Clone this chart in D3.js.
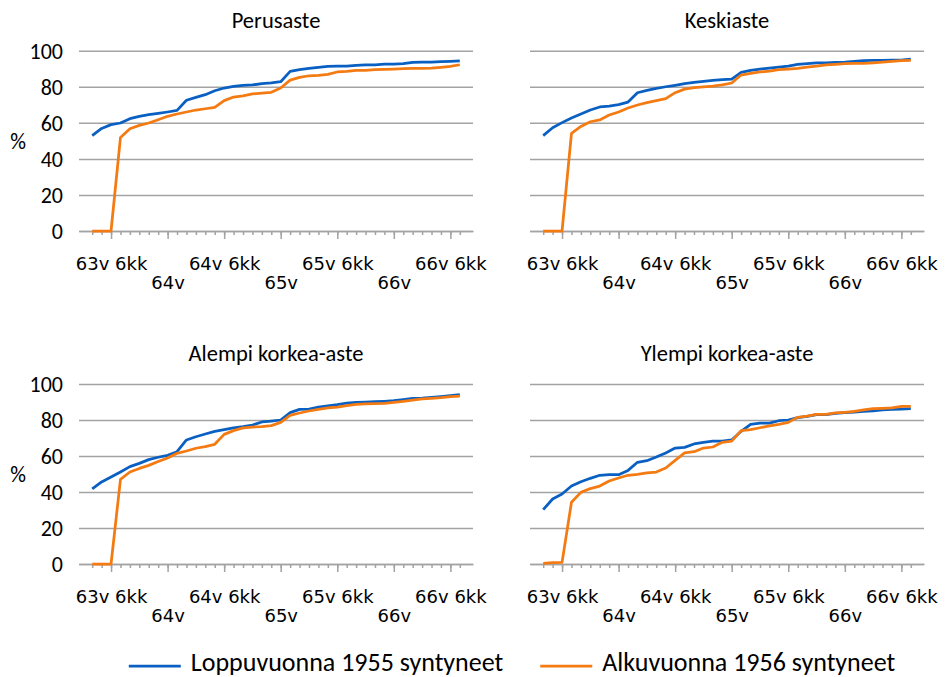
<!DOCTYPE html>
<html lang="fi">

<head>
    <meta charset="UTF-8">
    <title>Eläkkeelle siirtyminen koulutusasteittain</title>
    <script src="https://d3js.org/d3.v7.min.js"></script>
    <style>
        body {
            margin: 0;
            background: #fff;
        }

        svg {
            display: block;
        }

        .title, .ylab, .y-axis text, .legend text {
            font-family: Carlito, Lato, sans-serif;
            fill: #000;
        }

        .x-axis text {
            font-family: "DejaVu Sans", sans-serif;
            font-size: 18px;
            fill: #000;
        }
    </style>
</head>

<body>
    <svg></svg>
    <script>
        const width = 948;
        const height = 677;
        const plotWidth = 394;
        const gridColor = "#a3a3a3";

        // ikä kuukausina, 63v 4kk ... 66v 7kk
        const kategoriat = [
            "63v 4kk", "63v 5kk", "63v 6kk", "63v 7kk", "63v 8kk", "63v 9kk", "63v 10kk", "63v 11kk",
            "64v", "64v 1kk", "64v 2kk", "64v 3kk", "64v 4kk", "64v 5kk", "64v 6kk", "64v 7kk",
            "64v 8kk", "64v 9kk", "64v 10kk", "64v 11kk",
            "65v", "65v 1kk", "65v 2kk", "65v 3kk", "65v 4kk", "65v 5kk", "65v 6kk", "65v 7kk",
            "65v 8kk", "65v 9kk", "65v 10kk", "65v 11kk",
            "66v", "66v 1kk", "66v 2kk", "66v 3kk", "66v 4kk", "66v 5kk", "66v 6kk", "66v 7kk"
        ];
        const merkityt = ["63v 6kk", "64v", "64v 6kk", "65v", "65v 6kk", "66v", "66v 6kk"];
        const yTicks = [0, 20, 40, 60, 80, 100];

        const sarjat = ["Loppuvuonna 1955 syntyneet", "Alkuvuonna 1956 syntyneet"];
        const varit = ["#0a60c2", "#f47a12"];
        const otsikot = ["Perusaste", "Keskiaste", "Alempi korkea-aste", "Ylempi korkea-aste"];

        const perusaste1955 = [52.9, 56.9, 59.0, 59.9, 62.3, 63.6, 64.5, 65.2, 66.0, 66.9,
            72.5, 74.1, 75.6, 77.8, 79.3, 80.2, 80.8, 81.0, 81.7, 82.1,
            82.8, 88.5, 89.5, 90.2, 90.8, 91.3, 91.5, 91.5, 91.9, 92.1,
            92.2, 92.6, 92.6, 92.8, 93.5, 93.7, 93.7, 93.9, 94.1, 94.3];
        const perusaste1956 = [0, 0, 0, 51.9, 56.7, 58.6, 59.9, 61.7, 63.6, 64.9,
            66.0, 67.1, 67.8, 68.6, 72.3, 74.3, 75.0, 76.0, 76.5, 76.9,
            79.3, 83.7, 85.2, 86.1, 86.3, 86.9, 88.2, 88.5, 89.1, 89.1,
            89.5, 89.6, 89.8, 90.0, 90.2, 90.2, 90.4, 90.8, 91.3, 92.2];

        const keskiaste1955 = [52.9, 57.3, 60.1, 62.7, 64.9, 67.1, 68.8, 69.3, 70.1, 71.5,
            76.7, 78.0, 79.1, 80.0, 80.8, 81.7, 82.4, 83.0, 83.5, 83.9,
            84.3, 88.0, 89.1, 89.8, 90.4, 90.9, 91.5, 92.4, 92.8, 93.2,
            93.3, 93.5, 93.7, 94.1, 94.5, 94.6, 94.6, 94.8, 94.8, 95.4];
        const keskiaste1956 = [0, 0, 0, 54.2, 58.0, 60.6, 61.6, 64.3, 66.0, 68.2,
            69.9, 71.2, 72.3, 73.4, 76.7, 78.7, 79.5, 80.0, 80.4, 81.0,
            82.1, 86.5, 87.4, 88.2, 88.7, 89.5, 89.8, 90.2, 90.9, 91.5,
            92.1, 92.4, 92.8, 93.0, 93.0, 93.3, 93.7, 94.1, 94.5, 94.6];

        const alempi1955 = [41.7, 45.6, 48.3, 51.1, 54.1, 55.9, 58.0, 59.3, 60.4, 62.4,
            68.9, 70.7, 72.2, 73.7, 74.6, 75.6, 76.3, 77.2, 78.9, 79.4,
            80.0, 84.1, 85.9, 86.1, 87.2, 87.8, 88.5, 89.4, 89.8, 90.0,
            90.2, 90.4, 90.7, 91.3, 92.0, 92.2, 92.6, 93.0, 93.5, 94.1];
        const alempi1956 = [0, 0, 0, 47.0, 51.1, 53.1, 54.8, 56.9, 58.9, 61.5,
            62.8, 64.3, 65.2, 66.5, 72.0, 74.1, 75.6, 76.1, 76.3, 76.9,
            78.7, 82.6, 83.9, 85.0, 85.9, 86.7, 87.2, 88.0, 88.7, 88.9,
            89.1, 89.3, 89.8, 90.4, 91.1, 91.7, 92.0, 92.4, 93.0, 93.3];

        const ylempi1955 = [30.2, 36.1, 38.9, 43.3, 45.7, 47.6, 49.3, 49.6, 49.6, 52.0,
            56.5, 57.4, 59.4, 61.7, 64.4, 64.8, 66.7, 67.6, 68.3, 68.3,
            68.9, 73.7, 77.6, 78.3, 78.3, 79.6, 80.0, 81.3, 82.0, 83.0,
            83.0, 83.7, 84.1, 84.4, 84.8, 85.0, 85.6, 85.9, 86.1, 86.3];
        const ylempi1956 = [0.4, 0.7, 0.9, 34.3, 39.8, 41.9, 43.3, 46.1, 47.8, 49.3,
            49.8, 50.6, 51.1, 53.3, 57.6, 61.7, 62.4, 64.4, 65.0, 67.6,
            68.3, 74.1, 74.6, 75.7, 76.7, 77.6, 78.7, 81.5, 82.2, 83.1,
            83.1, 83.9, 84.3, 84.8, 85.6, 86.3, 86.5, 86.7, 87.6, 87.6];

        const paneelit = [
            { otsikko: otsikot[0], arvot: [perusaste1955, perusaste1956], left: 79, top: 50.7, bottom: 231, yLabels: true },
            { otsikko: otsikot[1], arvot: [keskiaste1955, keskiaste1956], left: 530, top: 50.7, bottom: 231, yLabels: false },
            { otsikko: otsikot[2], arvot: [alempi1955, alempi1956], left: 79, top: 384, bottom: 564, yLabels: true },
            { otsikko: otsikot[3], arvot: [ylempi1955, ylempi1956], left: 530, top: 384, bottom: 564, yLabels: false }
        ];

        function drawPanel(svg, p) {
            const xScale = d3.scalePoint().domain(kategoriat).range([p.left, p.left + plotWidth]).padding(1.4);
            const yScale = d3.scaleLinear().domain([0, 100]).range([p.bottom, p.top]);

            // gridlines + y labels
            const yAxis = svg.append('g')
                .attr('class', 'y-axis')
                .attr('transform', `translate(${p.left},0)`)
                .call(d3.axisLeft(yScale).tickValues(yTicks).tickSize(-plotWidth).tickPadding(16));
            yAxis.select('.domain').remove();
            yAxis.selectAll('line').attr('stroke', gridColor).attr('stroke-width', 1.5);
            yAxis.selectAll('text').attr('font-size', 22).attr('dy', '0.35em');
            if (!p.yLabels) yAxis.selectAll('text').remove();

            if (p.yLabels) {
                svg.append('text')
                    .attr('class', 'ylab')
                    .attr('x', 18)
                    .attr('y', (p.top + p.bottom) / 2)
                    .attr('dy', '0.35em')
                    .attr('text-anchor', 'middle')
                    .attr('font-size', 22)
                    .text('%');
            }

            // minor ticks each month
            const minor = svg.append('g')
                .attr('class', 'x-axis')
                .attr('transform', `translate(0,${p.bottom})`)
                .call(d3.axisBottom(xScale).tickValues(kategoriat).tickSize(4).tickSizeOuter(0).tickFormat(''));
            minor.selectAll('line').attr('stroke', gridColor).attr('stroke-width', 1.5);
            minor.select('.domain').attr('stroke', gridColor).attr('stroke-width', 1.5);

            // major ticks with labels on two rows
            const major = svg.append('g')
                .attr('class', 'x-axis')
                .attr('transform', `translate(0,${p.bottom})`)
                .call(d3.axisBottom(xScale).tickValues(merkityt).tickSize(8).tickSizeOuter(0));
            major.select('.domain').remove();
            major.selectAll('line').attr('stroke', gridColor).attr('stroke-width', 1.5);
            major.selectAll('text')
                .attr('font-size', null)
                .attr('font-family', null)
                .attr('dy', 0)
                .attr('y', (d, i) => i % 2 ? 58 : 38.5);

            const line = d3.line()
                .x((d, i) => xScale(kategoriat[i]))
                .y(d => yScale(d));

            p.arvot.forEach((arvot, s) => {
                svg.append('path')
                    .datum(arvot)
                    .attr('class', 'line')
                    .attr('fill', 'none')
                    .attr('stroke', varit[s])
                    .attr('stroke-width', 2.75)
                    .attr('stroke-linejoin', 'round')
                    .attr('d', line);
            });

            svg.append('text')
                .attr('class', 'title')
                .attr('x', p.left + plotWidth / 2)
                .attr('y', p.top - 23)
                .attr('text-anchor', 'middle')
                .attr('font-size', 22.5)
                .text(p.otsikko);
        }

        function drawLegend(svg) {
            const g = svg.append('g').attr('class', 'legend');
            const cy = 666;
            const gap = 37;
            let x = 0;
            sarjat.forEach((name, i) => {
                const item = g.append('g');
                item.append('line')
                    .attr('x1', 0).attr('x2', 52)
                    .attr('y1', 0).attr('y2', 0)
                    .attr('stroke', varit[i])
                    .attr('stroke-width', 2.75);
                const t = item.append('text')
                    .attr('x', 62)
                    .attr('y', 5)
                    .attr('font-size', 26)
                    .text(name);
                item.attr('transform', `translate(${x},${cy})`);
                x += 62 + t.node().getComputedTextLength() + gap;
            });
            const total = x - gap;
            g.attr('transform', `translate(${512 - total / 2},0)`);
        }

        function initialize() {
            const svg = d3.select('svg')
                .attr('width', width)
                .attr('height', height);

            paneelit.forEach(p => drawPanel(svg, p));
            drawLegend(svg);
        }

        initialize();
    </script>
</body>

</html>
